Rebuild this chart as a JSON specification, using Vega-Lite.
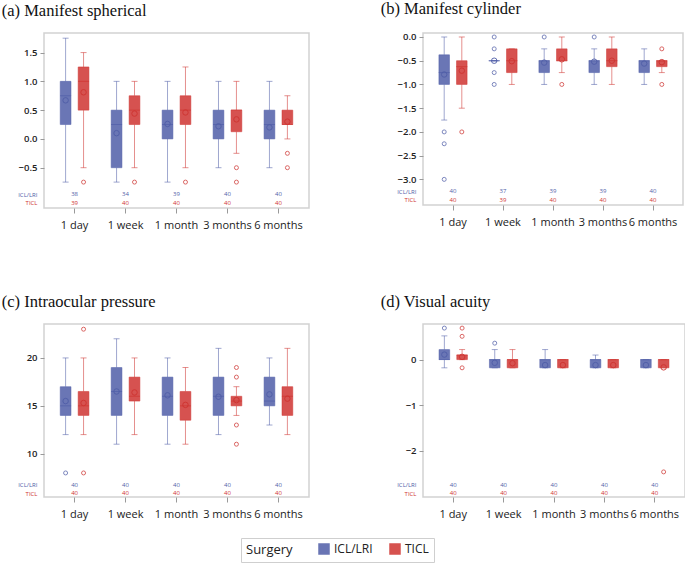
{
  "$schema": "https://vega.github.io/schema/vega-lite/v6.json",
  "padding": {"left": 0, "top": 0, "right": 2, "bottom": 2},
  "background": "white",
  "datasets": {
    "boxes": [
      {"panel": "a", "time": "1 day", "group": "ICL/LRI", "lower": -0.75, "q1": 0.25, "median": 0.75, "q3": 1.0, "upper": 1.75, "mean": 0.67},
      {"panel": "a", "time": "1 day", "group": "TICL", "lower": -0.5, "q1": 0.5, "median": 1.0, "q3": 1.25, "upper": 1.5, "mean": 0.81},
      {"panel": "a", "time": "1 week", "group": "ICL/LRI", "lower": -0.75, "q1": -0.5, "median": 0.25, "q3": 0.5, "upper": 1.0, "mean": 0.10},
      {"panel": "a", "time": "1 week", "group": "TICL", "lower": -0.5, "q1": 0.25, "median": 0.5, "q3": 0.75, "upper": 1.0, "mean": 0.44},
      {"panel": "a", "time": "1 month", "group": "ICL/LRI", "lower": -0.75, "q1": 0.0, "median": 0.25, "q3": 0.5, "upper": 1.0, "mean": 0.26},
      {"panel": "a", "time": "1 month", "group": "TICL", "lower": -0.5, "q1": 0.25, "median": 0.5, "q3": 0.75, "upper": 1.25, "mean": 0.46},
      {"panel": "a", "time": "3 months", "group": "ICL/LRI", "lower": -0.5, "q1": 0.0, "median": 0.25, "q3": 0.5, "upper": 1.0, "mean": 0.22},
      {"panel": "a", "time": "3 months", "group": "TICL", "lower": -0.25, "q1": 0.125, "median": 0.5, "q3": 0.5, "upper": 1.0, "mean": 0.34},
      {"panel": "a", "time": "6 months", "group": "ICL/LRI", "lower": -0.5, "q1": 0.0, "median": 0.25, "q3": 0.5, "upper": 1.0, "mean": 0.20},
      {"panel": "a", "time": "6 months", "group": "TICL", "lower": 0.0, "q1": 0.25, "median": 0.25, "q3": 0.5, "upper": 0.75, "mean": 0.30},

      {"panel": "b", "time": "1 day", "group": "ICL/LRI", "lower": -1.75, "q1": -1.0, "median": -0.75, "q3": -0.375, "upper": 0.0, "mean": -0.79},
      {"panel": "b", "time": "1 day", "group": "TICL", "lower": -1.5, "q1": -1.0, "median": -0.625, "q3": -0.5, "upper": 0.0, "mean": -0.71},
      {"panel": "b", "time": "1 week", "group": "ICL/LRI", "lower": -0.5, "q1": -0.5, "median": -0.5, "q3": -0.5, "upper": -0.5, "mean": -0.50},
      {"panel": "b", "time": "1 week", "group": "TICL", "lower": -1.0, "q1": -0.75, "median": -0.5, "q3": -0.25, "upper": -0.25, "mean": -0.51},
      {"panel": "b", "time": "1 month", "group": "ICL/LRI", "lower": -1.0, "q1": -0.75, "median": -0.5, "q3": -0.5, "upper": -0.25, "mean": -0.54},
      {"panel": "b", "time": "1 month", "group": "TICL", "lower": -0.75, "q1": -0.5, "median": -0.5, "q3": -0.25, "upper": 0.0, "mean": -0.47},
      {"panel": "b", "time": "3 months", "group": "ICL/LRI", "lower": -1.0, "q1": -0.75, "median": -0.5, "q3": -0.5, "upper": -0.25, "mean": -0.52},
      {"panel": "b", "time": "3 months", "group": "TICL", "lower": -1.0, "q1": -0.625, "median": -0.5, "q3": -0.25, "upper": 0.0, "mean": -0.50},
      {"panel": "b", "time": "6 months", "group": "ICL/LRI", "lower": -1.0, "q1": -0.75, "median": -0.5, "q3": -0.5, "upper": -0.25, "mean": -0.56},
      {"panel": "b", "time": "6 months", "group": "TICL", "lower": -0.75, "q1": -0.625, "median": -0.5, "q3": -0.5, "upper": -0.5, "mean": -0.53},

      {"panel": "c", "time": "1 day", "group": "ICL/LRI", "lower": 12, "q1": 14, "median": 15, "q3": 17, "upper": 20, "mean": 15.5},
      {"panel": "c", "time": "1 day", "group": "TICL", "lower": 12, "q1": 14, "median": 15, "q3": 16.5, "upper": 20, "mean": 15.3},
      {"panel": "c", "time": "1 week", "group": "ICL/LRI", "lower": 11, "q1": 14, "median": 16.5, "q3": 19, "upper": 22, "mean": 16.5},
      {"panel": "c", "time": "1 week", "group": "TICL", "lower": 12, "q1": 15.5, "median": 16, "q3": 18, "upper": 20, "mean": 16.4},
      {"panel": "c", "time": "1 month", "group": "ICL/LRI", "lower": 11, "q1": 14, "median": 16, "q3": 18, "upper": 20, "mean": 16.1},
      {"panel": "c", "time": "1 month", "group": "TICL", "lower": 11, "q1": 13.5, "median": 15, "q3": 16.5, "upper": 19, "mean": 15.1},
      {"panel": "c", "time": "3 months", "group": "ICL/LRI", "lower": 12, "q1": 14, "median": 16, "q3": 18, "upper": 21, "mean": 15.95},
      {"panel": "c", "time": "3 months", "group": "TICL", "lower": 14, "q1": 15, "median": 15.5, "q3": 16, "upper": 17, "mean": 15.6},
      {"panel": "c", "time": "6 months", "group": "ICL/LRI", "lower": 13, "q1": 15, "median": 15.5, "q3": 18, "upper": 20, "mean": 16.2},
      {"panel": "c", "time": "6 months", "group": "TICL", "lower": 12, "q1": 14, "median": 16, "q3": 17, "upper": 21, "mean": 15.75},

      {"panel": "d", "time": "1 day", "group": "ICL/LRI", "lower": -0.18, "q1": 0.0, "median": 0.0, "q3": 0.22, "upper": 0.52, "mean": 0.11},
      {"panel": "d", "time": "1 day", "group": "TICL", "lower": 0.0, "q1": 0.0, "median": 0.1, "q3": 0.1, "upper": 0.22, "mean": 0.06},
      {"panel": "d", "time": "1 week", "group": "ICL/LRI", "lower": -0.18, "q1": -0.18, "median": 0.0, "q3": 0.0, "upper": 0.22, "mean": -0.07},
      {"panel": "d", "time": "1 week", "group": "TICL", "lower": -0.18, "q1": -0.18, "median": 0.0, "q3": 0.0, "upper": 0.22, "mean": -0.08},
      {"panel": "d", "time": "1 month", "group": "ICL/LRI", "lower": -0.18, "q1": -0.18, "median": 0.0, "q3": 0.0, "upper": 0.22, "mean": -0.12},
      {"panel": "d", "time": "1 month", "group": "TICL", "lower": -0.18, "q1": -0.18, "median": 0.0, "q3": 0.0, "upper": 0.0, "mean": -0.12},
      {"panel": "d", "time": "3 months", "group": "ICL/LRI", "lower": -0.18, "q1": -0.18, "median": 0.0, "q3": 0.0, "upper": 0.1, "mean": -0.12},
      {"panel": "d", "time": "3 months", "group": "TICL", "lower": -0.18, "q1": -0.18, "median": 0.0, "q3": 0.0, "upper": 0.0, "mean": -0.12},
      {"panel": "d", "time": "6 months", "group": "ICL/LRI", "lower": -0.18, "q1": -0.18, "median": 0.0, "q3": 0.0, "upper": 0.0, "mean": -0.12},
      {"panel": "d", "time": "6 months", "group": "TICL", "lower": -0.18, "q1": -0.18, "median": 0.0, "q3": 0.0, "upper": 0.0, "mean": -0.17}
    ],
    "outliers": [
      {"panel": "a", "time": "1 day", "group": "TICL", "value": -0.75},
      {"panel": "a", "time": "1 week", "group": "TICL", "value": -0.75},
      {"panel": "a", "time": "1 month", "group": "TICL", "value": -0.75},
      {"panel": "a", "time": "3 months", "group": "TICL", "value": -0.5},
      {"panel": "a", "time": "3 months", "group": "TICL", "value": -0.75},
      {"panel": "a", "time": "6 months", "group": "TICL", "value": -0.25},
      {"panel": "a", "time": "6 months", "group": "TICL", "value": -0.5},
      {"panel": "b", "time": "1 day", "group": "ICL/LRI", "value": -2.0},
      {"panel": "b", "time": "1 day", "group": "ICL/LRI", "value": -2.25},
      {"panel": "b", "time": "1 day", "group": "ICL/LRI", "value": -3.0},
      {"panel": "b", "time": "1 day", "group": "TICL", "value": -2.0},
      {"panel": "b", "time": "1 week", "group": "ICL/LRI", "value": 0.0},
      {"panel": "b", "time": "1 week", "group": "ICL/LRI", "value": -0.25},
      {"panel": "b", "time": "1 week", "group": "ICL/LRI", "value": -0.75},
      {"panel": "b", "time": "1 week", "group": "ICL/LRI", "value": -1.0},
      {"panel": "b", "time": "1 month", "group": "ICL/LRI", "value": 0.0},
      {"panel": "b", "time": "1 month", "group": "TICL", "value": -1.0},
      {"panel": "b", "time": "3 months", "group": "ICL/LRI", "value": 0.0},
      {"panel": "b", "time": "6 months", "group": "TICL", "value": -0.25},
      {"panel": "b", "time": "6 months", "group": "TICL", "value": -1.0},
      {"panel": "c", "time": "1 day", "group": "ICL/LRI", "value": 8},
      {"panel": "c", "time": "1 day", "group": "TICL", "value": 23},
      {"panel": "c", "time": "1 day", "group": "TICL", "value": 8},
      {"panel": "c", "time": "3 months", "group": "TICL", "value": 19},
      {"panel": "c", "time": "3 months", "group": "TICL", "value": 18},
      {"panel": "c", "time": "3 months", "group": "TICL", "value": 13},
      {"panel": "c", "time": "3 months", "group": "TICL", "value": 11},
      {"panel": "d", "time": "1 day", "group": "ICL/LRI", "value": 0.69},
      {"panel": "d", "time": "1 day", "group": "TICL", "value": 0.69},
      {"panel": "d", "time": "1 day", "group": "TICL", "value": 0.51},
      {"panel": "d", "time": "1 day", "group": "TICL", "value": -0.18},
      {"panel": "d", "time": "1 week", "group": "ICL/LRI", "value": 0.36},
      {"panel": "d", "time": "6 months", "group": "TICL", "value": -2.46}
    ],
    "counts": [
      {"panel": "a", "time": "1 day", "group": "ICL/LRI", "n": 38},
      {"panel": "a", "time": "1 week", "group": "ICL/LRI", "n": 34},
      {"panel": "a", "time": "1 month", "group": "ICL/LRI", "n": 39},
      {"panel": "a", "time": "3 months", "group": "ICL/LRI", "n": 40},
      {"panel": "a", "time": "6 months", "group": "ICL/LRI", "n": 40},
      {"panel": "a", "time": "1 day", "group": "TICL", "n": 39},
      {"panel": "a", "time": "1 week", "group": "TICL", "n": 40},
      {"panel": "a", "time": "1 month", "group": "TICL", "n": 40},
      {"panel": "a", "time": "3 months", "group": "TICL", "n": 40},
      {"panel": "a", "time": "6 months", "group": "TICL", "n": 40},
      {"panel": "b", "time": "1 day", "group": "ICL/LRI", "n": 40},
      {"panel": "b", "time": "1 week", "group": "ICL/LRI", "n": 37},
      {"panel": "b", "time": "1 month", "group": "ICL/LRI", "n": 39},
      {"panel": "b", "time": "3 months", "group": "ICL/LRI", "n": 39},
      {"panel": "b", "time": "6 months", "group": "ICL/LRI", "n": 40},
      {"panel": "b", "time": "1 day", "group": "TICL", "n": 40},
      {"panel": "b", "time": "1 week", "group": "TICL", "n": 39},
      {"panel": "b", "time": "1 month", "group": "TICL", "n": 40},
      {"panel": "b", "time": "3 months", "group": "TICL", "n": 40},
      {"panel": "b", "time": "6 months", "group": "TICL", "n": 40},
      {"panel": "c", "time": "1 day", "group": "ICL/LRI", "n": 40},
      {"panel": "c", "time": "1 week", "group": "ICL/LRI", "n": 40},
      {"panel": "c", "time": "1 month", "group": "ICL/LRI", "n": 40},
      {"panel": "c", "time": "3 months", "group": "ICL/LRI", "n": 40},
      {"panel": "c", "time": "6 months", "group": "ICL/LRI", "n": 40},
      {"panel": "c", "time": "1 day", "group": "TICL", "n": 40},
      {"panel": "c", "time": "1 week", "group": "TICL", "n": 40},
      {"panel": "c", "time": "1 month", "group": "TICL", "n": 40},
      {"panel": "c", "time": "3 months", "group": "TICL", "n": 40},
      {"panel": "c", "time": "6 months", "group": "TICL", "n": 40},
      {"panel": "d", "time": "1 day", "group": "ICL/LRI", "n": 40},
      {"panel": "d", "time": "1 week", "group": "ICL/LRI", "n": 40},
      {"panel": "d", "time": "1 month", "group": "ICL/LRI", "n": 40},
      {"panel": "d", "time": "3 months", "group": "ICL/LRI", "n": 40},
      {"panel": "d", "time": "6 months", "group": "ICL/LRI", "n": 40},
      {"panel": "d", "time": "1 day", "group": "TICL", "n": 40},
      {"panel": "d", "time": "1 week", "group": "TICL", "n": 40},
      {"panel": "d", "time": "1 month", "group": "TICL", "n": 40},
      {"panel": "d", "time": "3 months", "group": "TICL", "n": 40},
      {"panel": "d", "time": "6 months", "group": "TICL", "n": 40}
    ]
  },
  "config": {
    "font": "Open Sans",
    "view": {"stroke": "#d2d2d2", "strokeWidth": 1.5},
    "axis": {"domain": false, "grid": false, "labelFont": "Open Sans", "labelColor": "#222", "tickColor": "#999", "title": null, "labelOverlap": false},
    "axisX": {"labelAngle": 0, "labelFontSize": 11, "tickSize": 5, "labelPadding": 6},
    "axisY": {"labelFontSize": 9.5, "labelFontWeight": 600, "tickSize": 4, "labelPadding": 3, "labelOverlap": false},
    "title": {"font": "Liberation Serif", "fontSize": 16.5, "fontWeight": "normal", "anchor": "start", "color": "#111", "offset": 14, "dx": -16},
    "legend": {"direction": "horizontal", "titleOrient": "left", "strokeColor": "#cfcfcf", "padding": 5, "titleFont": "Open Sans", "titleFontSize": 13, "titleFontWeight": "normal", "titleColor": "#222", "titlePadding": 25, "labelFont": "Open Sans", "labelFontSize": 12, "labelColor": "#222", "symbolSize": 100, "symbolOpacity": 0.85, "columnPadding": 14}
  },
  "columns": 2,
  "spacing": {"row": 61, "column": 69},
  "resolve": {"scale": {"x": "independent", "y": "independent", "xOffset": "independent", "color": "shared"}, "legend": {"color": "shared"}},
  "concat": [
    {
      "title": "(a) Manifest spherical",
      "width": 265, "height": 175,
      "layer": [
        {
          "data": {"name": "boxes"},
          "transform": [{"filter": "datum.panel == 'a'"}],
          "encoding": {
            "x": {"field": "time", "type": "nominal", "sort": ["1 day", "1 week", "1 month", "3 months", "6 months"], "scale": {"paddingInner": 0, "paddingOuter": 0.1}},
            "xOffset": {"field": "group", "type": "nominal", "sort": ["ICL/LRI", "TICL"], "scale": {"paddingInner": 0.4, "paddingOuter": 0.62}},
            "color": {"field": "group", "type": "nominal", "scale": {"domain": ["ICL/LRI", "TICL"], "range": ["#505ea8", "#cf3431"]}}
          },
          "layer": [
            {"mark": {"type": "bar", "fillOpacity": 0.85}, "encoding": {"y": {"field": "q1", "type": "quantitative", "title": null, "scale": {"domain": [-1.2, 1.84], "nice": false, "zero": false}, "axis": {"values": [-1.11, -0.96, -0.5, 0, 0.5, 1, 1.5], "tickCount": 40, "format": ".1f", "labelOverlap": false, "labelExpr": "datum.value == -0.96 ? 'ICL/LRI' : datum.value == -1.11 ? 'TICL' : datum.label", "labelColor": {"condition": [{"test": "datum.value == -0.96", "value": "#505ea8"}, {"test": "datum.value == -1.11", "value": "#cf3431"}], "value": "#222"}, "labelFontSize": {"condition": {"test": "datum.value < -0.9", "value": 6}, "value": 9.5}, "labelFontWeight": {"condition": {"test": "datum.value < -0.9", "value": "normal"}, "value": 600}, "tickOpacity": {"condition": {"test": "datum.value < -0.9", "value": 0}, "value": 1}}}, "y2": {"field": "q3"}, "color": {"field": "group", "type": "nominal", "title": "Surgery", "legend": {"title": "Surgery", "orient": "none", "legendX": 197, "legendY": 505, "symbolType": "square"}}}},
            {"mark": {"type": "bar", "filled": false, "strokeWidth": 1, "opacity": 0.5}, "encoding": {"y": {"field": "q1", "type": "quantitative", "title": null}, "y2": {"field": "q3"}}},
            {"mark": {"type": "rule", "opacity": 0.55}, "encoding": {"y": {"field": "lower", "type": "quantitative", "title": null}, "y2": {"field": "q1"}}},
            {"mark": {"type": "rule", "opacity": 0.55}, "encoding": {"y": {"field": "q3", "type": "quantitative", "title": null}, "y2": {"field": "upper"}}},
            {"mark": {"type": "tick", "orient": "horizontal", "size": 6, "thickness": 1, "opacity": 0.55}, "encoding": {"y": {"field": "lower", "type": "quantitative", "title": null}}},
            {"mark": {"type": "tick", "orient": "horizontal", "size": 6, "thickness": 1, "opacity": 0.55}, "encoding": {"y": {"field": "upper", "type": "quantitative", "title": null}}},
            {"mark": {"type": "tick", "orient": "horizontal", "size": 11, "thickness": 1}, "encoding": {"y": {"field": "median", "type": "quantitative", "title": null}}},
            {"mark": {"type": "point", "shape": "circle", "filled": false, "size": 30, "strokeWidth": 1, "opacity": 0.9}, "encoding": {"y": {"field": "mean", "type": "quantitative", "title": null}}}
          ]
        },
        {
          "data": {"name": "outliers"},
          "transform": [{"filter": "datum.panel == 'a'"}],
          "mark": {"type": "point", "shape": "circle", "filled": false, "size": 16, "strokeWidth": 1, "opacity": 0.75},
          "encoding": {
            "x": {"field": "time", "type": "nominal", "sort": ["1 day", "1 week", "1 month", "3 months", "6 months"]},
            "xOffset": {"field": "group", "type": "nominal", "sort": ["ICL/LRI", "TICL"]},
            "y": {"field": "value", "type": "quantitative", "title": null},
            "color": {"field": "group", "type": "nominal"}
          }
        },
        {
          "data": {"name": "counts"},
          "transform": [{"filter": "datum.panel == 'a' && datum.group == 'ICL/LRI'"}],
          "mark": {"type": "text", "fontSize": 6, "font": "Open Sans"},
          "encoding": {
            "x": {"field": "time", "type": "nominal", "sort": ["1 day", "1 week", "1 month", "3 months", "6 months"]},
            "y": {"datum": -0.96, "type": "quantitative"},
            "text": {"field": "n"},
            "color": {"field": "group", "type": "nominal"}
          }
        },
        {
          "data": {"name": "counts"},
          "transform": [{"filter": "datum.panel == 'a' && datum.group == 'TICL'"}],
          "mark": {"type": "text", "fontSize": 6, "font": "Open Sans"},
          "encoding": {
            "x": {"field": "time", "type": "nominal", "sort": ["1 day", "1 week", "1 month", "3 months", "6 months"]},
            "y": {"datum": -1.11, "type": "quantitative"},
            "text": {"field": "n"},
            "color": {"field": "group", "type": "nominal"}
          }
        }
      ]
    },
    {
      "title": "(b) Manifest cylinder",
      "width": 260, "height": 172,
      "layer": [
        {
          "data": {"name": "boxes"},
          "transform": [{"filter": "datum.panel == 'b'"}],
          "encoding": {
            "x": {"field": "time", "type": "nominal", "sort": ["1 day", "1 week", "1 month", "3 months", "6 months"], "scale": {"paddingInner": 0, "paddingOuter": 0.1}},
            "xOffset": {"field": "group", "type": "nominal", "sort": ["ICL/LRI", "TICL"], "scale": {"paddingInner": 0.4, "paddingOuter": 0.62}},
            "color": {"field": "group", "type": "nominal", "scale": {"domain": ["ICL/LRI", "TICL"], "range": ["#505ea8", "#cf3431"]}}
          },
          "layer": [
            {"mark": {"type": "bar", "fillOpacity": 0.85}, "encoding": {"y": {"field": "q1", "type": "quantitative", "title": null, "scale": {"domain": [-3.54, 0.084], "nice": false, "zero": false}, "axis": {"values": [-3.43, -3.25, -3, -2.5, -2, -1.5, -1, -0.5, 0], "tickCount": 40, "format": ".1f", "labelOverlap": false, "labelExpr": "datum.value == -3.25 ? 'ICL/LRI' : datum.value == -3.43 ? 'TICL' : datum.label", "labelColor": {"condition": [{"test": "datum.value == -3.25", "value": "#505ea8"}, {"test": "datum.value == -3.43", "value": "#cf3431"}], "value": "#222"}, "labelFontSize": {"condition": {"test": "datum.value < -3.1", "value": 6}, "value": 9.5}, "labelFontWeight": {"condition": {"test": "datum.value < -3.1", "value": "normal"}, "value": 600}, "tickOpacity": {"condition": {"test": "datum.value < -3.1", "value": 0}, "value": 1}}}, "y2": {"field": "q3"}, "color": {"field": "group", "type": "nominal", "title": "Surgery", "legend": {"title": "Surgery", "orient": "none", "legendX": 197, "legendY": 505, "symbolType": "square"}}}},
            {"mark": {"type": "bar", "filled": false, "strokeWidth": 1, "opacity": 0.5}, "encoding": {"y": {"field": "q1", "type": "quantitative", "title": null}, "y2": {"field": "q3"}}},
            {"mark": {"type": "rule", "opacity": 0.55}, "encoding": {"y": {"field": "lower", "type": "quantitative", "title": null}, "y2": {"field": "q1"}}},
            {"mark": {"type": "rule", "opacity": 0.55}, "encoding": {"y": {"field": "q3", "type": "quantitative", "title": null}, "y2": {"field": "upper"}}},
            {"mark": {"type": "tick", "orient": "horizontal", "size": 6, "thickness": 1, "opacity": 0.55}, "encoding": {"y": {"field": "lower", "type": "quantitative", "title": null}}},
            {"mark": {"type": "tick", "orient": "horizontal", "size": 6, "thickness": 1, "opacity": 0.55}, "encoding": {"y": {"field": "upper", "type": "quantitative", "title": null}}},
            {"mark": {"type": "tick", "orient": "horizontal", "size": 11, "thickness": 1}, "encoding": {"y": {"field": "median", "type": "quantitative", "title": null}}},
            {"mark": {"type": "point", "shape": "circle", "filled": false, "size": 30, "strokeWidth": 1, "opacity": 0.9}, "encoding": {"y": {"field": "mean", "type": "quantitative", "title": null}}}
          ]
        },
        {
          "data": {"name": "outliers"},
          "transform": [{"filter": "datum.panel == 'b'"}],
          "mark": {"type": "point", "shape": "circle", "filled": false, "size": 16, "strokeWidth": 1, "opacity": 0.75},
          "encoding": {
            "x": {"field": "time", "type": "nominal", "sort": ["1 day", "1 week", "1 month", "3 months", "6 months"]},
            "xOffset": {"field": "group", "type": "nominal", "sort": ["ICL/LRI", "TICL"]},
            "y": {"field": "value", "type": "quantitative", "title": null},
            "color": {"field": "group", "type": "nominal"}
          }
        },
        {
          "data": {"name": "counts"},
          "transform": [{"filter": "datum.panel == 'b' && datum.group == 'ICL/LRI'"}],
          "mark": {"type": "text", "fontSize": 6, "font": "Open Sans"},
          "encoding": {
            "x": {"field": "time", "type": "nominal", "sort": ["1 day", "1 week", "1 month", "3 months", "6 months"]},
            "y": {"datum": -3.25, "type": "quantitative"},
            "text": {"field": "n"},
            "color": {"field": "group", "type": "nominal"}
          }
        },
        {
          "data": {"name": "counts"},
          "transform": [{"filter": "datum.panel == 'b' && datum.group == 'TICL'"}],
          "mark": {"type": "text", "fontSize": 6, "font": "Open Sans"},
          "encoding": {
            "x": {"field": "time", "type": "nominal", "sort": ["1 day", "1 week", "1 month", "3 months", "6 months"]},
            "y": {"datum": -3.43, "type": "quantitative"},
            "text": {"field": "n"},
            "color": {"field": "group", "type": "nominal"}
          }
        }
      ]
    },
    {
      "title": "(c) Intraocular pressure",
      "width": 265, "height": 173,
      "layer": [
        {
          "data": {"name": "boxes"},
          "transform": [{"filter": "datum.panel == 'c'"}],
          "encoding": {
            "x": {"field": "time", "type": "nominal", "sort": ["1 day", "1 week", "1 month", "3 months", "6 months"], "scale": {"paddingInner": 0, "paddingOuter": 0.1}},
            "xOffset": {"field": "group", "type": "nominal", "sort": ["ICL/LRI", "TICL"], "scale": {"paddingInner": 0.4, "paddingOuter": 0.62}},
            "color": {"field": "group", "type": "nominal", "scale": {"domain": ["ICL/LRI", "TICL"], "range": ["#505ea8", "#cf3431"]}}
          },
          "layer": [
            {"mark": {"type": "bar", "fillOpacity": 0.85}, "encoding": {"y": {"field": "q1", "type": "quantitative", "title": null, "scale": {"domain": [5.49, 23.54], "nice": false, "zero": false}, "axis": {"values": [5.86, 6.77, 10, 15, 20], "tickCount": 40, "format": ".0f", "labelOverlap": false, "labelExpr": "datum.value == 6.77 ? 'ICL/LRI' : datum.value == 5.86 ? 'TICL' : datum.label", "labelColor": {"condition": [{"test": "datum.value == 6.77", "value": "#505ea8"}, {"test": "datum.value == 5.86", "value": "#cf3431"}], "value": "#222"}, "labelFontSize": {"condition": {"test": "datum.value < 8", "value": 6}, "value": 9.5}, "labelFontWeight": {"condition": {"test": "datum.value < 8", "value": "normal"}, "value": 600}, "tickOpacity": {"condition": {"test": "datum.value < 8", "value": 0}, "value": 1}}}, "y2": {"field": "q3"}, "color": {"field": "group", "type": "nominal", "title": "Surgery", "legend": {"title": "Surgery", "orient": "none", "legendX": 197, "legendY": 505, "symbolType": "square"}}}},
            {"mark": {"type": "bar", "filled": false, "strokeWidth": 1, "opacity": 0.5}, "encoding": {"y": {"field": "q1", "type": "quantitative", "title": null}, "y2": {"field": "q3"}}},
            {"mark": {"type": "rule", "opacity": 0.55}, "encoding": {"y": {"field": "lower", "type": "quantitative", "title": null}, "y2": {"field": "q1"}}},
            {"mark": {"type": "rule", "opacity": 0.55}, "encoding": {"y": {"field": "q3", "type": "quantitative", "title": null}, "y2": {"field": "upper"}}},
            {"mark": {"type": "tick", "orient": "horizontal", "size": 6, "thickness": 1, "opacity": 0.55}, "encoding": {"y": {"field": "lower", "type": "quantitative", "title": null}}},
            {"mark": {"type": "tick", "orient": "horizontal", "size": 6, "thickness": 1, "opacity": 0.55}, "encoding": {"y": {"field": "upper", "type": "quantitative", "title": null}}},
            {"mark": {"type": "tick", "orient": "horizontal", "size": 11, "thickness": 1}, "encoding": {"y": {"field": "median", "type": "quantitative", "title": null}}},
            {"mark": {"type": "point", "shape": "circle", "filled": false, "size": 30, "strokeWidth": 1, "opacity": 0.9}, "encoding": {"y": {"field": "mean", "type": "quantitative", "title": null}}}
          ]
        },
        {
          "data": {"name": "outliers"},
          "transform": [{"filter": "datum.panel == 'c'"}],
          "mark": {"type": "point", "shape": "circle", "filled": false, "size": 16, "strokeWidth": 1, "opacity": 0.75},
          "encoding": {
            "x": {"field": "time", "type": "nominal", "sort": ["1 day", "1 week", "1 month", "3 months", "6 months"]},
            "xOffset": {"field": "group", "type": "nominal", "sort": ["ICL/LRI", "TICL"]},
            "y": {"field": "value", "type": "quantitative", "title": null},
            "color": {"field": "group", "type": "nominal"}
          }
        },
        {
          "data": {"name": "counts"},
          "transform": [{"filter": "datum.panel == 'c' && datum.group == 'ICL/LRI'"}],
          "mark": {"type": "text", "fontSize": 6, "font": "Open Sans"},
          "encoding": {
            "x": {"field": "time", "type": "nominal", "sort": ["1 day", "1 week", "1 month", "3 months", "6 months"]},
            "y": {"datum": 6.77, "type": "quantitative"},
            "text": {"field": "n"},
            "color": {"field": "group", "type": "nominal"}
          }
        },
        {
          "data": {"name": "counts"},
          "transform": [{"filter": "datum.panel == 'c' && datum.group == 'TICL'"}],
          "mark": {"type": "text", "fontSize": 6, "font": "Open Sans"},
          "encoding": {
            "x": {"field": "time", "type": "nominal", "sort": ["1 day", "1 week", "1 month", "3 months", "6 months"]},
            "y": {"datum": 5.86, "type": "quantitative"},
            "text": {"field": "n"},
            "color": {"field": "group", "type": "nominal"}
          }
        }
      ]
    },
    {
      "title": "(d) Visual acuity",
      "width": 262, "height": 173,
      "layer": [
        {
          "data": {"name": "boxes"},
          "transform": [{"filter": "datum.panel == 'd'"}],
          "encoding": {
            "x": {"field": "time", "type": "nominal", "sort": ["1 day", "1 week", "1 month", "3 months", "6 months"], "scale": {"paddingInner": 0, "paddingOuter": 0.1}},
            "xOffset": {"field": "group", "type": "nominal", "sort": ["ICL/LRI", "TICL"], "scale": {"paddingInner": 0.4, "paddingOuter": 0.62}},
            "color": {"field": "group", "type": "nominal", "scale": {"domain": ["ICL/LRI", "TICL"], "range": ["#505ea8", "#cf3431"]}}
          },
          "layer": [
            {"mark": {"type": "bar", "fillOpacity": 0.85}, "encoding": {"y": {"field": "q1", "type": "quantitative", "title": null, "scale": {"domain": [-3.01, 0.78], "nice": false, "zero": false}, "axis": {"values": [-2.93, -2.74, -2, -1, 0], "tickCount": 40, "format": ".0f", "labelOverlap": false, "labelExpr": "datum.value == -2.74 ? 'ICL/LRI' : datum.value == -2.93 ? 'TICL' : datum.label", "labelColor": {"condition": [{"test": "datum.value == -2.74", "value": "#505ea8"}, {"test": "datum.value == -2.93", "value": "#cf3431"}], "value": "#222"}, "labelFontSize": {"condition": {"test": "datum.value < -2.5", "value": 6}, "value": 9.5}, "labelFontWeight": {"condition": {"test": "datum.value < -2.5", "value": "normal"}, "value": 600}, "tickOpacity": {"condition": {"test": "datum.value < -2.5", "value": 0}, "value": 1}}}, "y2": {"field": "q3"}, "color": {"field": "group", "type": "nominal", "title": "Surgery", "legend": {"title": "Surgery", "orient": "none", "legendX": 197, "legendY": 505, "symbolType": "square"}}}},
            {"mark": {"type": "bar", "filled": false, "strokeWidth": 1, "opacity": 0.5}, "encoding": {"y": {"field": "q1", "type": "quantitative", "title": null}, "y2": {"field": "q3"}}},
            {"mark": {"type": "rule", "opacity": 0.55}, "encoding": {"y": {"field": "lower", "type": "quantitative", "title": null}, "y2": {"field": "q1"}}},
            {"mark": {"type": "rule", "opacity": 0.55}, "encoding": {"y": {"field": "q3", "type": "quantitative", "title": null}, "y2": {"field": "upper"}}},
            {"mark": {"type": "tick", "orient": "horizontal", "size": 6, "thickness": 1, "opacity": 0.55}, "encoding": {"y": {"field": "lower", "type": "quantitative", "title": null}}},
            {"mark": {"type": "tick", "orient": "horizontal", "size": 6, "thickness": 1, "opacity": 0.55}, "encoding": {"y": {"field": "upper", "type": "quantitative", "title": null}}},
            {"mark": {"type": "tick", "orient": "horizontal", "size": 11, "thickness": 1}, "encoding": {"y": {"field": "median", "type": "quantitative", "title": null}}},
            {"mark": {"type": "point", "shape": "circle", "filled": false, "size": 30, "strokeWidth": 1, "opacity": 0.9}, "encoding": {"y": {"field": "mean", "type": "quantitative", "title": null}}}
          ]
        },
        {
          "data": {"name": "outliers"},
          "transform": [{"filter": "datum.panel == 'd'"}],
          "mark": {"type": "point", "shape": "circle", "filled": false, "size": 16, "strokeWidth": 1, "opacity": 0.75},
          "encoding": {
            "x": {"field": "time", "type": "nominal", "sort": ["1 day", "1 week", "1 month", "3 months", "6 months"]},
            "xOffset": {"field": "group", "type": "nominal", "sort": ["ICL/LRI", "TICL"]},
            "y": {"field": "value", "type": "quantitative", "title": null},
            "color": {"field": "group", "type": "nominal"}
          }
        },
        {
          "data": {"name": "counts"},
          "transform": [{"filter": "datum.panel == 'd' && datum.group == 'ICL/LRI'"}],
          "mark": {"type": "text", "fontSize": 6, "font": "Open Sans"},
          "encoding": {
            "x": {"field": "time", "type": "nominal", "sort": ["1 day", "1 week", "1 month", "3 months", "6 months"]},
            "y": {"datum": -2.74, "type": "quantitative"},
            "text": {"field": "n"},
            "color": {"field": "group", "type": "nominal"}
          }
        },
        {
          "data": {"name": "counts"},
          "transform": [{"filter": "datum.panel == 'd' && datum.group == 'TICL'"}],
          "mark": {"type": "text", "fontSize": 6, "font": "Open Sans"},
          "encoding": {
            "x": {"field": "time", "type": "nominal", "sort": ["1 day", "1 week", "1 month", "3 months", "6 months"]},
            "y": {"datum": -2.93, "type": "quantitative"},
            "text": {"field": "n"},
            "color": {"field": "group", "type": "nominal"}
          }
        }
      ]
    }
  ]
}
